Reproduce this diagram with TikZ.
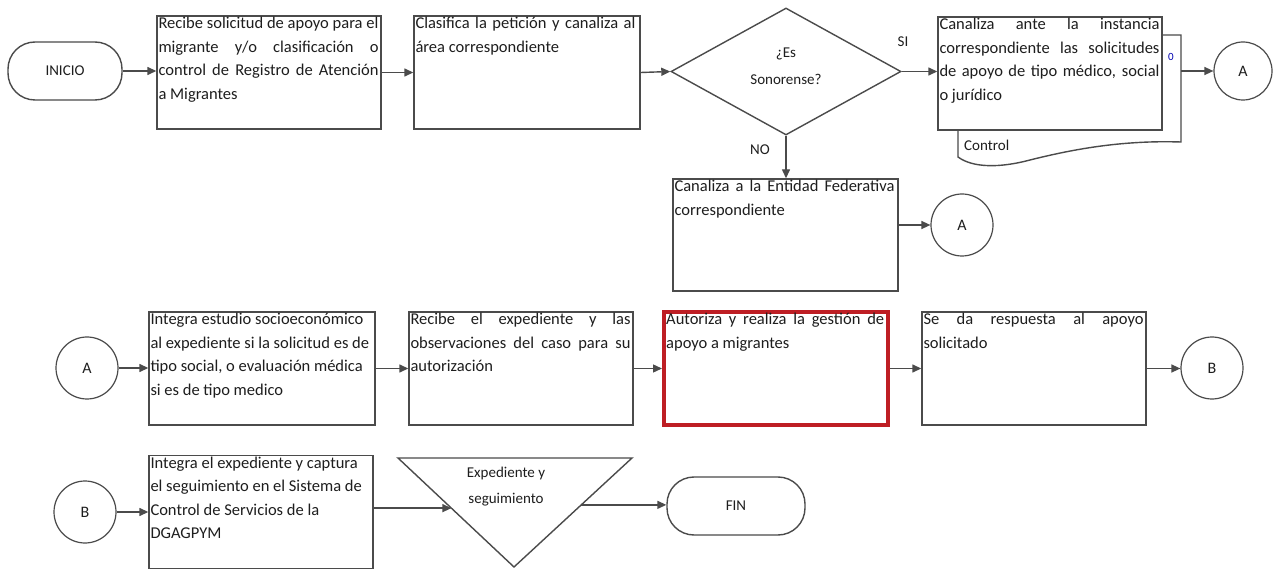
\documentclass[tikz,border=0pt]{standalone}
\usepackage{fontspec}
\setmainfont{Carlito}
\usetikzlibrary{arrows.meta,shapes.geometric,calc}
\definecolor{ln}{RGB}{75,75,75}
\definecolor{tx}{RGB}{30,30,30}
\definecolor{rd}{RGB}{190,30,36}
\newlength\jw \setlength\jw{220pt}
\newcommand\jl[1]{\makebox[\jw][s]{#1}}
\newcommand\nsp{\spaceskip=0pt\xspaceskip=0pt\relax}
\begin{document}
\begin{tikzpicture}[x=1pt,y=-1pt,
 every node/.style={text=tx},
 box/.style={draw=ln, line width=1.4pt, fill=white, minimum width=224pt, minimum height=113pt, inner sep=0pt},
 txt/.style={anchor=north west, inner sep=0pt, text width=222pt, align=left, font=\fontsize{16.5}{23.5}\selectfont},
 term/.style={draw=ln, line width=1.4pt, rounded corners=27pt, minimum height=58pt, inner sep=0pt, font=\fontsize{15}{18}\selectfont},
 conn/.style={circle, draw=ln, line width=1.2pt, minimum size=60pt, inner sep=0pt, font=\fontsize{16}{18}\selectfont},
 arr/.style={draw=ln, line width=1.4pt, -{Triangle[length=9pt,width=8pt]}},
 lbl/.style={font=\fontsize{15}{18}\selectfont, inner sep=0pt}]

\useasboundingbox[fill=white] (0,0) rectangle (1275,569);

% ---------- row 1 ----------
\node[term, minimum width=114pt] (inicio) at (65,71) {INICIO};
\node[box] (b1) at (269,72.5) {};
\node[txt] (t1) at ($(b1.north west)+(2,2)$) {\nsp\jl{Recibe solicitud de apoyo para el}\\ \jl{migrante y/o clasificación o}\\ \jl{control de Registro de Atención}\\ a Migrantes};
\node[box, minimum width=226pt] (b2) at (527,72.5) {};
\node[txt] (t2) at ($(b2.north west)+(2,2)$) {\nsp\jl{Clasifica la petición y canaliza al}\\ área correspondiente};
\node[draw=ln, line width=1.4pt, diamond, minimum width=230pt, minimum height=127pt, inner sep=0pt, fill=white] (dia) at (786,71.5) {};
\node[lbl, align=center, font=\fontsize{15}{27}\selectfont] (q) at (786,66) {¿Es\\Sonorense?};
\draw[draw=ln, line width=1.4pt, fill=white] (958,35) -- (1181,35) -- (1181,142)
  .. controls (1120,140) and (1070,150) .. (1030,160)
  .. controls (1000,168) and (973,168) .. (958,157) -- cycle;
\node[lbl, anchor=west] (ctrl) at (964,145) {Control};
\node[box] (b3) at (1050,73.5) {};
\node[txt] (t3) at ($(b3.north west)+(2,2)$) {\nsp\jl{Canaliza ante la instancia}\\ \jl{correspondiente las solicitudes}\\ \jl{de apoyo de tipo médico, social}\\ o jurídico};
\node[font=\fontsize{11}{12}\selectfont, text=blue!70!black, inner sep=0pt] (zero) at (1171,57) {0};
\coordinate (docR) at (1181,71);
\node[conn, minimum size=58pt] (A1) at (1243,71) {A};
\node[lbl] (si) at (903,42) {SI};
\node[lbl] (no) at (760,150) {NO};
\node[box, minimum width=225pt, minimum height=112pt] (b4) at (785.5,235) {};
\node[txt] (t4) at ($(b4.north west)+(2,2)$) {\nsp\jl{Canaliza a la Entidad Federativa}\\ correspondiente};
\node[conn, minimum size=62pt] (A2) at (962,225) {A};

\draw[arr] (inicio.east) -- (inicio.east -| b1.west);
\draw[arr] (b1.east) -- (b2.west);
\draw[arr] (b2.east) -- (dia.west);
\draw[arr] (dia.east) -- (dia.east -| b3.west);
\draw[arr] (docR) -- (A1.west);
\draw[arr] (dia.south) -- (dia.south |- b4.north);
\draw[arr] (b4.east |- A2.west) -- (A2.west);

% ---------- row 2 ----------
\node[conn, minimum size=62pt] (A3) at (87,368) {A};
\node[box, minimum width=226pt] (b5) at (262,368.5) {};
\node[txt] (t5) at ($(b5.north west)+(2,2)$) {\nsp Integra estudio socioeconómico\\ al expediente si la solicitud es de\\ tipo social, o evaluación médica\\ si es de tipo medico};
\node[box] (b6) at (521,368.5) {};
\node[txt] (t6) at ($(b6.north west)+(2,2)$) {\nsp\jl{Recibe el expediente y las}\\ \jl{observaciones del caso para su}\\ autorización};
\node[box, draw=rd, line width=4pt] (b7) at (776,368.5) {};
\node[txt] (t7) at ($(b7.north west)+(4,3)$) {\nsp\makebox[218pt][s]{Autoriza y realiza la gestión de}\\ apoyo a migrantes};
\node[box] (b8) at (1034,368.5) {};
\node[txt] (t8) at ($(b8.north west)+(2,2)$) {\nsp\jl{Se da respuesta al apoyo}\\ solicitado};
\node[conn, minimum size=62pt] (B1) at (1212,368) {B};

\draw[arr] (A3.east) -- (A3.east -| b5.west);
\draw[arr] (b5.east) -- (b6.west);
\draw[arr] (b6.east) -- (b7.west);
\draw[arr] (b7.east) -- (b8.west);
\draw[arr] (b8.east) -- (b8.east -| B1.west);

% ---------- row 3 ----------
\node[conn, minimum size=62pt] (B2) at (85,512) {B};
\node[box] (b9) at (261,512) {};
\node[txt] (t9) at ($(b9.north west)+(2,2)$) {\nsp Integra el expediente y captura\\ el seguimiento en el Sistema de\\ Control de Servicios de la\\ DGAGPYM};
\coordinate (tl) at (398,458);
\coordinate (tr) at (632,458);
\coordinate (tb) at (514,567);
\draw[draw=ln, line width=1.4pt] (tl) -- (tr) -- (tb) -- cycle;
\node[lbl, align=center, font=\fontsize{15}{26}\selectfont] (tt) at (506,487) {Expediente y\\seguimiento};
\coordinate (tin) at ($(tl)!0.46!(tb)$);
\coordinate (tout) at ($(tr)!0.43!(tb)$);
\node[term, minimum width=138pt] (fin) at (736,506) {FIN};

\draw[arr] (B2.east) -- (b9.west);
\draw[arr] (b9.east |- tin) -- (tin);
\draw[arr] (tout) -- (tout -| fin.west);
\end{tikzpicture}
\end{document}
